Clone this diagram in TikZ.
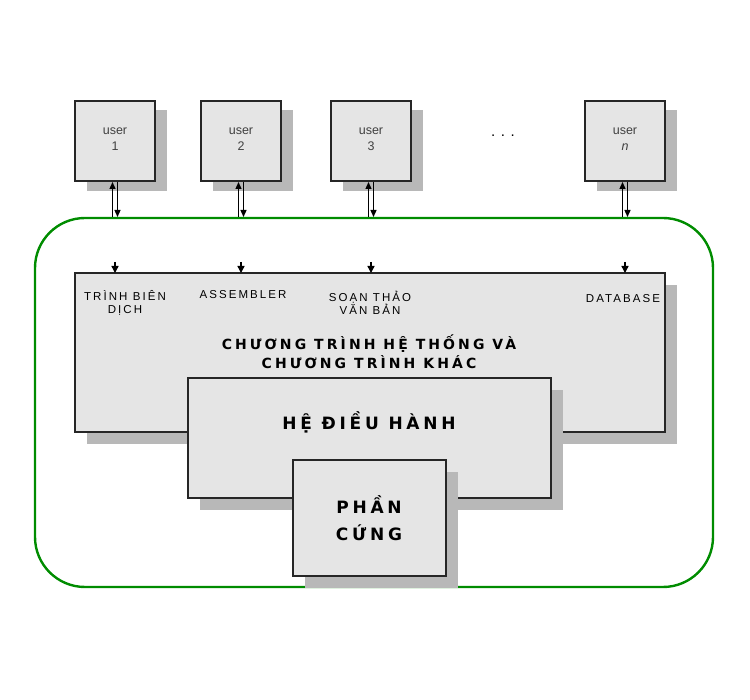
\documentclass[tikz,border=0pt]{standalone}
\usepackage{fontspec}
\setmainfont{Liberation Sans}
\newfontfamily\spaced[LetterSpace=18]{Liberation Sans}
\newfontfamily\wide[LetterSpace=22]{DejaVu Sans}
\usetikzlibrary{arrows.meta}
\begin{document}
\begin{tikzpicture}[x=1pt,y=-1pt,
  box/.style={draw=black!85,line width=1.2pt,fill=black!10},
  shad/.style={fill=black!28},
  lab/.style={font=\spaced\fontsize{11.5}{13}\selectfont,align=center,inner sep=0},
  ttl/.style={font=\wide\bfseries\fontsize{14}{19}\selectfont,align=center,inner sep=0},
  usr/.style={font=\fontsize{12.5}{16}\selectfont,align=center,text=black!75},
  tip/.style={-{Triangle[length=7pt,width=7pt]},line width=1.4pt}]
\useasboundingbox (0,0) rectangle (750,700);
\draw[green!55!black,line width=2.4pt,rounded corners=50pt] (35,218) rectangle (713,587);
% users
\foreach \x/\t [count=\i] in {75/1,201/2,331/3,585/{\itshape n}}{
  \fill[shad] (\x+12,191) rectangle (\x+92,110);
  \draw[box] (\x,101) rectangle (\x+80,181);
  \node[usr] (u\i) at (\x+40,139) {user\\\t};
  \coordinate (ub\i) at (\x+40,182);
  \coordinate (g\i) at (\x+40,217);
  \draw[-{Triangle[length=7pt,width=6pt]},line width=1.3pt] ([xshift=-2.5pt]g\i) -- ([xshift=-2.5pt]ub\i);
  \draw[-{Triangle[length=7pt,width=6pt]},line width=1.3pt] ([xshift=2.5pt]ub\i) -- ([xshift=2.5pt]g\i);
  \coordinate (a\i) at (\x+40,262);
  \coordinate (b\i) at (\x+40,273);
}
\node[font=\fontsize{15}{15}\selectfont] (dots) at (503,136) {. . .};
% main box
\fill[shad] (87,285) rectangle (677,444);
\draw[box] (75,273) rectangle (665,432);
\foreach \i in {1,...,4}{\draw[tip] (a\i) -- (b\i);}
\node[lab] (l1) at (125,303) {TRÌNH BIÊN\\DỊCH};
\node[lab] (l2) at (243,295) {ASSEMBLER};
\node[lab] (l3) at (370,303) {SOẠN THẢO\\VĂN BẢN};
\node[lab] (l4) at (623,299) {DATABASE};
\node[ttl] (t1) at (369,352) {CHƯƠNG TRÌNH HỆ THỐNG VÀ\\CHƯƠNG TRÌNH KHÁC};
% OS
\fill[shad] (200,390) rectangle (563,510);
\draw[box] (188,378) rectangle (551,498);
\node[ttl,font=\wide\bfseries\fontsize{17}{20}\selectfont] (os) at (369,422) {HỆ ĐIỀU HÀNH};
% HW
\fill[shad] (305,472) rectangle (458,588);
\draw[box] (293,460) rectangle (446,576);
\node[ttl,font=\wide\bfseries\fontsize{17}{27}\selectfont] (hw) at (369,518) {PHẦN\\CỨNG};
\end{tikzpicture}
\end{document}
